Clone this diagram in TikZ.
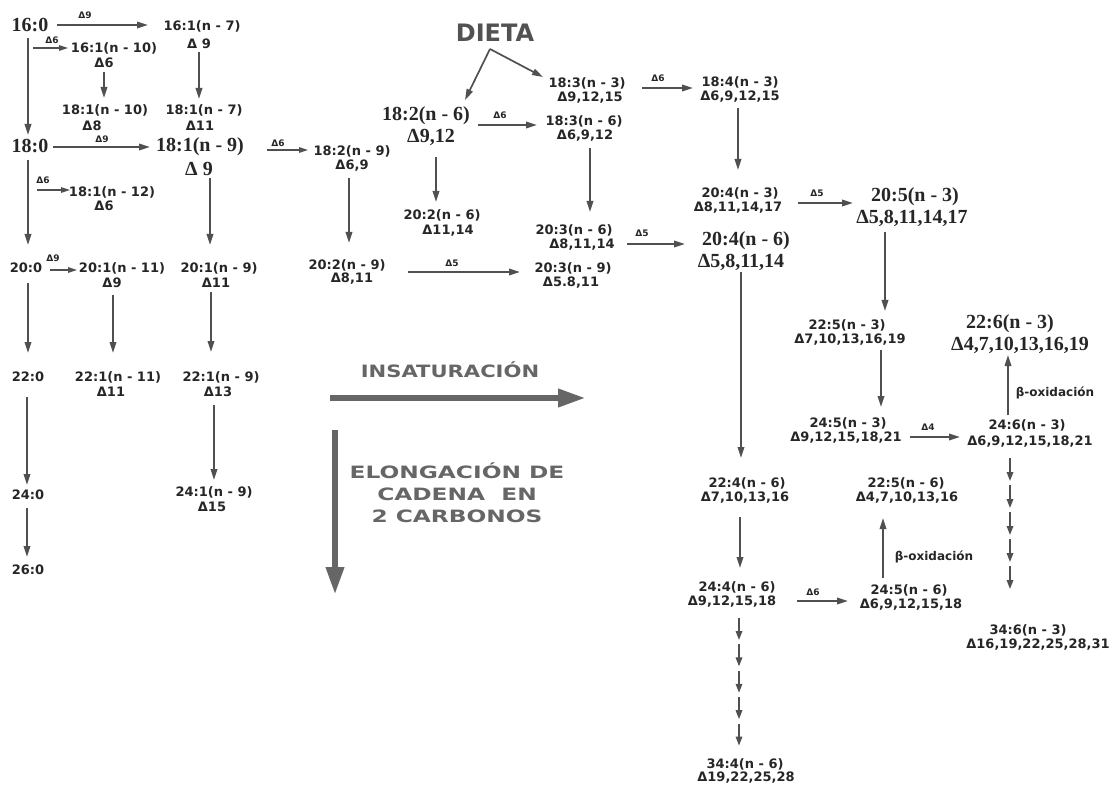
\documentclass[tikz,border=0pt]{standalone}
\usepackage{fontspec}
\newfontfamily\famS{DejaVu Sans}
\newfontfamily\famR{Liberation Serif}
\usetikzlibrary{arrows.meta,calc}
\definecolor{txtc}{HTML}{262626}
\definecolor{arrc}{HTML}{505050}
\definecolor{bigc}{HTML}{666666}
\begin{document}
\begin{tikzpicture}[x=1pt,y=-1pt,
 sm/.style={font=\famS\bfseries\fontsize{13}{15}\selectfont,text=txtc,inner sep=0pt},
 lg/.style={font=\famR\bfseries\fontsize{20}{22}\selectfont,text=txtc,inner sep=0pt},
 tn/.style={font=\famS\bfseries\fontsize{9}{10}\selectfont,text=txtc,inner sep=0pt},
 bx/.style={font=\famS\bfseries\fontsize{12}{13}\selectfont,text=txtc,inner sep=0pt},
 arr/.style={draw=arrc,line width=1.7pt,-{Triangle[length=11pt,width=6.5pt]}},
 sarr/.style={draw=arrc,line width=1.4pt,-{Triangle[length=9pt,width=5.5pt]}},
 carr/.style={draw=arrc,line width=1.6pt,-{Triangle[length=9pt,width=6.5pt]}},
 bigarr/.style={draw=bigc,line width=6.5pt,-{Triangle[length=28pt,width=17pt]}},
 ttl/.style={font=\famS\bfseries\fontsize{17}{22}\selectfont,text=bigc,inner sep=0pt,align=center}]
\fill[white] (0,0) rectangle (1111,786);
\useasboundingbox (0,0) rectangle (1111,786);

% ---- left block
\node[lg] (a160) at (30,25) {16:0};
\node[sm] (b1) at (202,26) {16:1(n - 7)};
\node[sm] (b1d) at (199,44) {Δ 9};
\node[sm] (c1) at (114,48) {16:1(n - 10)};
\node[sm] (c1d) at (104,63) {Δ6};
\node[sm] (c2) at (105,110) {18:1(n - 10)};
\node[sm] (c2d) at (92,126) {Δ8};
\node[sm] (b2) at (204,110) {18:1(n - 7)};
\node[sm] (b2d) at (200,126) {Δ11};
\node[lg] (a180) at (30,146) {18:0};
\node[lg] (d1) at (200,147) {18:1(n - 9)};
\node[lg] (d1d) at (199,169) {Δ 9};
\node[sm] (e1) at (352,151) {18:2(n - 9)};
\node[sm] (e1d) at (352,166) {Δ6,9};
\node[sm] (f1) at (112,192) {18:1(n - 12)};
\node[sm] (f1d) at (104,206) {Δ6};
\node[sm] (a200) at (26,268) {20:0};
\node[sm] (g1) at (122,268) {20:1(n - 11)};
\node[sm] (g1d) at (112,283) {Δ9};
\node[sm] (h1) at (219,268) {20:1(n - 9)};
\node[sm] (h1d) at (216,283) {Δ11};
\node[sm] (e2) at (347,265) {20:2(n - 9)};
\node[sm] (e2d) at (352,279) {Δ8,11};
\node[sm] (a220) at (28,377) {22:0};
\node[sm] (g2) at (118,377) {22:1(n - 11)};
\node[sm] (g2d) at (111,392) {Δ11};
\node[sm] (h2) at (221,377) {22:1(n - 9)};
\node[sm] (h2d) at (218,392) {Δ13};
\node[sm] (a240) at (28,495) {24:0};
\node[sm] (h3) at (214,492) {24:1(n - 9)};
\node[sm] (h3d) at (212,507) {Δ15};
\node[sm] (a260) at (28,570) {26:0};

% ---- middle / right
\node[font=\famS\bfseries\fontsize{24}{26}\selectfont,text=black!68,inner sep=0pt] (dieta) at (495,33) {DIETA};
\node[lg] (i1) at (426,116) {18:2(n - 6)};
\node[lg] (i1d) at (431,137) {Δ9,12};
\node[sm] (j1) at (587,83) {18:3(n - 3)};
\node[sm] (j1d) at (590,98) {Δ9,12,15};
\node[sm] (k1) at (584,121) {18:3(n - 6)};
\node[sm] (k1d) at (585,136) {Δ6,9,12};
\node[sm] (l1) at (740,82) {18:4(n - 3)};
\node[sm] (l1d) at (740,97) {Δ6,9,12,15};
\node[sm] (i2) at (442,215) {20:2(n - 6)};
\node[sm] (i2d) at (448,231) {Δ11,14};
\node[sm] (k2) at (574,230) {20:3(n - 6)};
\node[sm] (k2d) at (582,245) {Δ8,11,14};
\node[sm] (m1) at (573,268) {20:3(n - 9)};
\node[sm] (m1d) at (571,283) {Δ5.8,11};
\node[sm] (l2) at (740,193) {20:4(n - 3)};
\node[sm] (l2d) at (738,208) {Δ8,11,14,17};
\node[lg] (n1) at (915,197) {20:5(n - 3)};
\node[lg] (n1d) at (912,218) {Δ5,8,11,14,17};
\node[lg] (o1) at (746,241) {20:4(n - 6)};
\node[lg] (o1d) at (741,262) {Δ5,8,11,14};
\node[sm] (p1) at (847,325) {22:5(n - 3)};
\node[sm] (p1d) at (850,340) {Δ7,10,13,16,19};
\node[sm] (p2) at (848,423) {24:5(n - 3)};
\node[sm] (p2d) at (846,438) {Δ9,12,15,18,21};
\node[sm] (q1) at (1027,425) {24:6(n - 3)};
\node[sm] (q1d) at (1030,442) {Δ6,9,12,15,18,21};
\node[lg] (r1) at (1010,324) {22:6(n - 3)};
\node[lg] (r1d) at (1020,345) {Δ4,7,10,13,16,19};
\node[sm] (o2) at (747,483) {22:4(n - 6)};
\node[sm] (o2d) at (745,498) {Δ7,10,13,16};
\node[sm] (o3) at (737,587) {24:4(n - 6)};
\node[sm] (o3d) at (732,602) {Δ9,12,15,18};
\node[sm] (s1) at (909,590) {24:5(n - 6)};
\node[sm] (s1d) at (911,605) {Δ6,9,12,15,18};
\node[sm] (s2) at (906,483) {22:5(n - 6)};
\node[sm] (s2d) at (907,498) {Δ4,7,10,13,16};
\node[sm] (q2) at (1028,630) {34:6(n - 3)};
\node[sm] (q2d) at (1038,645) {Δ16,19,22,25,28,31};
\node[sm] (o4) at (745,764) {34:4(n - 6)};
\node[sm] (o4d) at (746,778) {Δ19,22,25,28};

% ---- titles
\node[ttl] (insat) at (450,370) {\scalebox{1.24}[1]{INSATURACIÓN}};
\node[ttl] (elong) at (457,496) {\scalebox{1.37}[1]{\begin{tabular}{@{}c@{}}ELONGACIÓN DE\\CADENA\ \ EN\\2 CARBONOS\end{tabular}}};
\draw[bigarr] ($(insat)+(-120,28)$) -- ($(insat)+(136,28)$);
\draw[bigarr] ($(elong)+(-122,-66)$) -- ($(elong)+(-122,99)$);

% ---- arrow labels
\node[tn] (lab1) at (85,15) {Δ9};
\node[tn] (lab2) at (52,40) {Δ6};
\node[tn] (lab3) at (102,139) {Δ9};
\node[tn] (lab4) at (278,143) {Δ6};
\node[tn] (lab5) at (43,180) {Δ6};
\node[tn] (lab6) at (53,258) {Δ9};
\node[tn] (lab7) at (500,115) {Δ6};
\node[tn] (lab8) at (658,78) {Δ6};
\node[tn] (lab9) at (452,263) {Δ5};
\node[tn] (lab10) at (642,233) {Δ5};
\node[tn] (lab11) at (817,193) {Δ5};
\node[tn] (lab12) at (928,427) {Δ4};
\node[tn] (lab13) at (813,592) {Δ6};
\node[bx] (box1) at (1055,393) {β-oxidación};
\node[bx] (box2) at (934,557) {β-oxidación};

% ---- connectors
\draw[arr] ($(a160)+(27,0)$) -- ($(b1)+(-54,-1)$);
\draw[arr] ($(a160)+(-2,13)$) -- ($(a180)+(-2,-11)$);
\draw[sarr] ($(a160)+(3,23)$) -- ($(c1)+(-46,0)$);
\draw[arr] ($(c1d)+(0,9)$) -- ($(c2)+(-1,-12)$);
\draw[arr] ($(b1d)+(0,8)$) -- ($(b2)+(-5,-11)$);
\draw[arr] ($(a180)+(23,1)$) -- ($(d1)+(-50,0)$);
\draw[sarr] ($(d1)+(67,3)$) -- ($(e1)+(-44,-1)$);
\draw[sarr] ($(a180)+(7,44)$) -- ($(f1)+(-42,-2)$);
\draw[arr] ($(a180)+(-2,14)$) -- ($(a200)+(2,-23)$);
\draw[arr] ($(d1d)+(11,9)$) -- ($(h1)+(-9,-23)$);
\draw[arr] ($(e1d)+(-3,12)$) -- ($(e2)+(2,-22)$);
\draw[sarr] ($(a200)+(24,2)$) -- ($(g1)+(-45,2)$);
\draw[arr] ($(a200)+(2,15)$) -- ($(a220)+(0,-24)$);
\draw[arr] ($(g1d)+(1,12)$) -- ($(g2)+(-5,-24)$);
\draw[arr] ($(h1d)+(-5,9)$) -- ($(h2)+(-10,-25)$);
\draw[arr] ($(a220)+(-1,20)$) -- ($(a240)+(-1,-10)$);
\draw[arr] ($(h2d)+(-4,13)$) -- ($(h3)+(0,-12)$);
\draw[arr] ($(a240)+(-1,13)$) -- ($(a260)+(-1,-13)$);
\coordinate (dv) at ($(dieta)+(-5,16)$);
\draw[arr] (dv) -- ($(i1)+(39,-16)$);
\draw[arr] (dv) -- ($(j1)+(-44,-6)$);
\draw[arr] ($(i1)+(52,9)$) -- ($(k1)+(-47,4)$);
\draw[arr] ($(j1)+(55,5)$) -- ($(l1)+(-47,6)$);
\draw[arr] ($(i1d)+(5,20)$) -- ($(i2)+(-6,-13)$);
\draw[arr] ($(k1d)+(5,12)$) -- ($(k2)+(16,-18)$);
\draw[arr] ($(e2)+(61,7)$) -- ($(m1)+(-53,4)$);
\draw[arr] ($(k2d)+(45,-1)$) -- ($(o1)+(-61,3)$);
\draw[arr] ($(l1d)+(-2,11)$) -- ($(l2)+(-2,-23)$);
\draw[arr] ($(l2d)+(60,-5)$) -- ($(n1)+(-62,6)$);
\draw[arr] ($(n1d)+(-27,14)$) -- ($(p1)+(38,-14)$);
\draw[arr] ($(p1d)+(31,10)$) -- ($(p2)+(33,-16)$);
\draw[arr] ($(p2d)+(64,-1)$) -- ($(q1d)+(-70,-5)$);
\draw[arr] ($(q1)+(-19,-10)$) -- ($(r1d)+(-12,10)$);
\draw[arr] ($(o1d)+(0,10)$) -- ($(o2)+(-6,-25)$);
\draw[arr] ($(o2d)+(-5,19)$) -- ($(o3)+(3,-19)$);
\draw[arr] ($(o3d)+(65,-1)$) -- ($(s1d)+(-63,-4)$);
\draw[arr] ($(s1)+(-26,-12)$) -- ($(s2d)+(-24,20)$);
\foreach \k in {0,...,4} {
  \draw[carr] ($(q1d)+(-20,16+27*\k)$) -- ++(0,23);
  \draw[carr] ($(o3d)+(7,16+26.4*\k)$) -- ++(0,22);
}
\end{tikzpicture}
\end{document}
